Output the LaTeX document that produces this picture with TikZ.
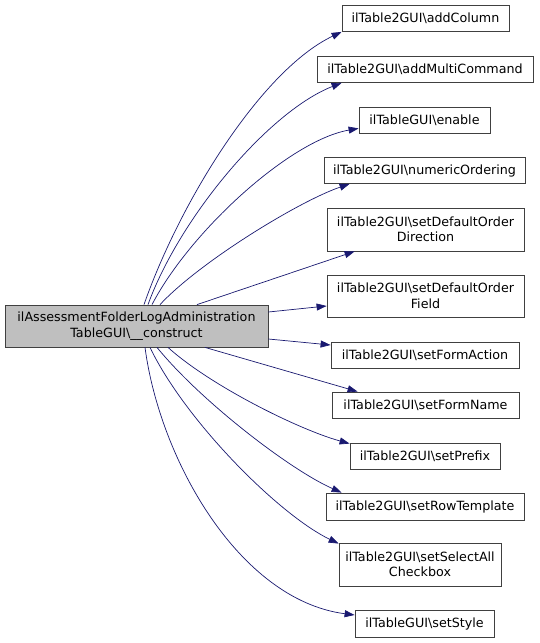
\documentclass[tikz,border=0pt]{standalone}
\usepackage{fontspec}
\setmainfont{DejaVu Sans}
\usetikzlibrary{arrows.meta}
\definecolor{edgeblue}{HTML}{191970}
\definecolor{boxgray}{HTML}{BFBFBF}
\newcommand{\bs}{\textbackslash}

\begin{document}
\begin{tikzpicture}[x=1pt,y=-1pt,
  fn/.style={draw=black!75,line width=0.8pt,inner sep=0pt,align=center,
    font=\fontsize{12.7}{15.5}\selectfont,minimum height=26},
  call/.style={draw=edgeblue,line width=0.7pt,-{Triangle[length=10pt,width=7pt]}}]
 \useasboundingbox (0,0) rectangle (539,643);

 \node[fn,fill=boxgray,minimum width=263,minimum height=42] (main) at (136.5,326)
   {ilAssessmentFolderLogAdministration\\TableGUI\bs\_\_construct};

 \node[fn,minimum width=167] (addcol) at (425.5,18.5) {ilTable2GUI\bs addColumn};
 \node[fn,minimum width=216] (addmulti) at (425,69.5) {ilTable2GUI\bs addMultiCommand};
 \node[fn,minimum width=131] (enable) at (424.5,120) {ilTableGUI\bs enable};
 \node[fn,minimum width=201] (numord) at (424.5,170.5) {ilTable2GUI\bs numericOrdering};
 \node[fn,minimum width=197,minimum height=43] (orderdir) at (425.5,229.5)
   {ilTable2GUI\bs setDefaultOrder\\Direction};
 \node[fn,minimum width=197,minimum height=42] (orderfield) at (425.5,296)
   {ilTable2GUI\bs setDefaultOrder\\Field};
 \node[fn,minimum width=188] (formact) at (425,355) {ilTable2GUI\bs setFormAction};
 \node[fn,minimum width=187] (formname) at (425.5,405) {ilTable2GUI\bs setFormName};
 \node[fn,minimum width=150] (prefix) at (425,456) {ilTable2GUI\bs setPrefix};
 \node[fn,minimum width=198,minimum height=27] (rowtpl) at (425,506.5) {ilTable2GUI\bs setRowTemplate};
 \node[fn,minimum width=162,minimum height=43] (selall) at (420,564.5)
   {ilTable2GUI\bs setSelectAll\\Checkbox};
 \node[fn,minimum width=139,minimum height=27] (style) at (424.5,623.5) {ilTableGUI\bs setStyle};

 % calls going up
 \draw[call] ([xshift=7.5]main.north) .. controls +(36,-103) and +(-80,38) .. (addcol.south west);
 \draw[call] ([xshift=11.5]main.north) .. controls +(32,-88) and +(-72,28) .. ([xshift=25]addmulti.south west);
 \draw[call] ([xshift=15.5]main.north) .. controls +(38,-73) and +(-69,12) .. ([yshift=5]enable.south west);
 \draw[call] ([xshift=23.5]main.north) .. controls +(40,-43) and +(-50,17) .. ([xshift=26]numord.south west);
 \draw[call] ([xshift=60.5]main.north) -- ([xshift=28]orderdir.south west);
 % calls going right
 \draw[call] ([yshift=14]main.east) -- ([yshift=-10]orderfield.west);
 \draw[call] ([yshift=-13]main.east) -- ([yshift=10]formact.west);
 % calls going down
 \draw[call] ([xshift=68.5]main.south) -- ([xshift=26]formname.north west);
 \draw[call] ([xshift=31.5]main.south) .. controls +(42,38) and +(-51,-14) .. ([yshift=-1]prefix.north west);
 \draw[call] ([xshift=20.5]main.south) .. controls +(43,53) and +(-52,-23) .. ([xshift=16]rowtpl.north west);
 \draw[call] ([xshift=13.5]main.south) .. controls +(35,73) and +(-60,-29) .. ([yshift=-1]selall.north west);
 \draw[call] ([xshift=8.5]main.south) .. controls +(15,113) and +(-115,-15) .. ([yshift=8.5]style.west);

\end{tikzpicture}
\end{document}
